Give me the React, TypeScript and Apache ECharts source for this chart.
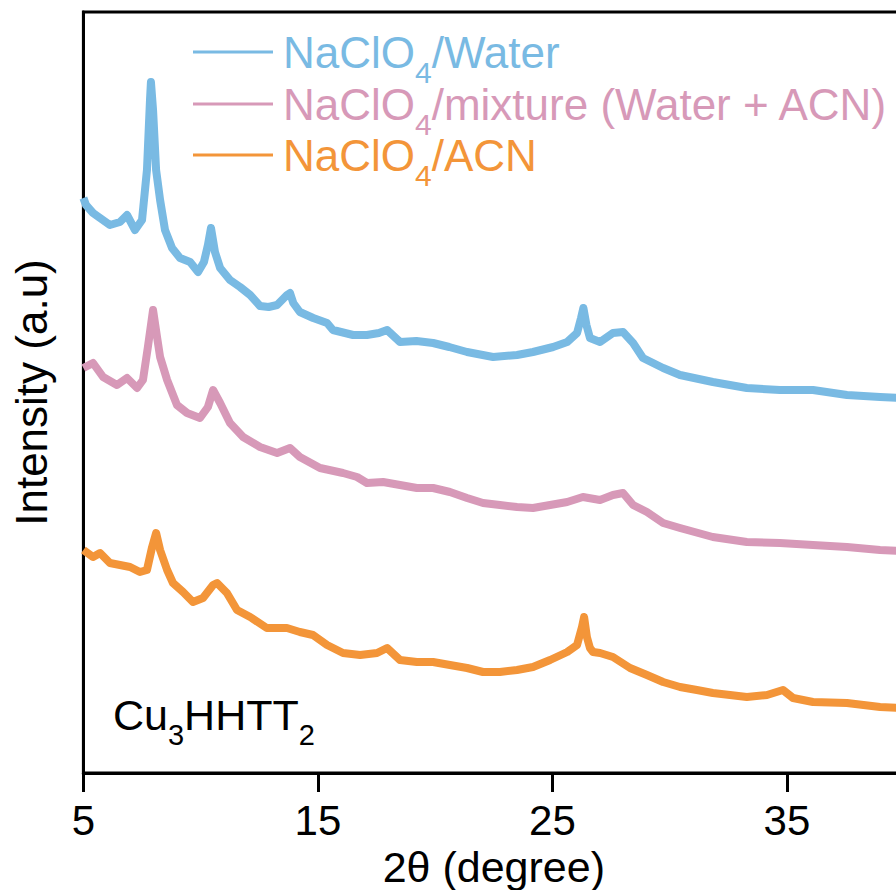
import React, { useEffect, useRef } from "react";
import * as echarts from "echarts";

// 2θ (degree), intensity (a.u.)
const waterData: [number, number][] = [
  [5.0, 575], [5.11, 568], [5.41, 560], [5.71, 555], [6.13, 548], [6.56, 551], [6.86, 558], [7.2, 543],
  [7.5, 553], [7.71, 603], [7.84, 673], [7.88, 691], [7.97, 663], [8.1, 603], [8.27, 573], [8.48, 543],
  [8.78, 525], [9.12, 515], [9.55, 511], [9.89, 501], [10.14, 511], [10.31, 528], [10.44, 545], [10.61, 521],
  [10.83, 505], [11.25, 493], [11.68, 486], [12.11, 478], [12.53, 467], [12.9, 466], [13.26, 468], [13.68, 478],
  [13.81, 480], [13.95, 470], [14.23, 461], [14.8, 455], [15.39, 450], [15.64, 443], [16.5, 438], [17.09, 438],
  [17.6, 440], [17.95, 443], [18.5, 431], [19.2, 432], [19.91, 430], [20.6, 426], [21.36, 421], [22.47, 416],
  [23.49, 418], [24.17, 421], [25.03, 426], [25.63, 431], [26.05, 440], [26.22, 455], [26.32, 465], [26.45, 448],
  [26.6, 435], [27.03, 431], [27.58, 440], [28.01, 441], [28.44, 430], [28.86, 415], [29.72, 405], [30.44, 398],
  [31.84, 391], [33.29, 385], [34.7, 383], [36.11, 383], [37.56, 378], [38.97, 376], [40, 375],
];

const mixtureData: [number, number][] = [
  [5.0, 405], [5.41, 410], [5.84, 396], [6.43, 388], [6.86, 395], [7.29, 385], [7.54, 393], [7.75, 426],
  [7.97, 463], [8.14, 436], [8.27, 416], [8.57, 393], [8.99, 368], [9.42, 360], [9.97, 355], [10.31, 366],
  [10.53, 383], [10.83, 370], [11.25, 350], [11.81, 336], [12.53, 326], [13.26, 320], [13.81, 325], [14.23, 316],
  [15.09, 305], [16.07, 300], [16.67, 296], [17.09, 290], [17.78, 291], [18.5, 288], [19.22, 285], [19.91, 285],
  [20.63, 281], [21.36, 275], [22.04, 270], [22.76, 268], [23.49, 266], [24.17, 265], [24.9, 268], [25.63, 271],
  [26.3, 276], [27.03, 273], [27.58, 278], [28.01, 280], [28.44, 268], [29.03, 261], [29.72, 250], [30.44, 245],
  [31.84, 236], [33.29, 231], [34.7, 230], [36.11, 228], [37.56, 226], [38.97, 223], [40, 222],
];

const acnData: [number, number][] = [
  [5.0, 223], [5.41, 216], [5.71, 220], [6.13, 210], [6.56, 208], [6.99, 206], [7.41, 201], [7.71, 203],
  [7.93, 226], [8.1, 240], [8.27, 223], [8.57, 203], [8.82, 190], [9.25, 181], [9.67, 171], [10.1, 175],
  [10.53, 188], [10.7, 190], [11.12, 180], [11.55, 163], [12.11, 156], [12.82, 145], [13.68, 145], [14.23, 141],
  [14.79, 138], [15.39, 128], [16.07, 120], [16.8, 118], [17.52, 120], [17.95, 125], [18.5, 113], [19.22, 111],
  [19.91, 111], [20.63, 108], [21.36, 105], [22.04, 101], [22.76, 101], [23.49, 103], [24.17, 106], [24.9, 113],
  [25.63, 121], [26.05, 128], [26.26, 146], [26.35, 156], [26.47, 136], [26.6, 125], [26.73, 121], [27.03, 120],
  [27.58, 116], [28.31, 105], [29.03, 98], [29.72, 91], [30.44, 86], [31.16, 83], [31.84, 80], [32.57, 78],
  [33.29, 76], [34.15, 78], [34.83, 83], [35.26, 75], [36.11, 71], [37.56, 70], [38.97, 66], [40, 65],
];

const seriesNames = ["NaClO4/Water", "NaClO4/mixture (Water + ACN)", "NaClO4/ACN"];
const seriesColors = ["#79BAE3", "#D799B8", "#F39539"];
const xTickValues = [5, 15, 25, 35];
const xMin = 5;
const xMax = 40;
const xInterval = 10;
const sampleLabel = { main1: "Cu", sub1: "3", main2: "HHTT", sub2: "2" };

const FONT = "Liberation Sans, Arial, Helvetica, sans-serif";

function richStyles(color: string, main: number, sub: number, lead: number) {
  return {
    f: { fontSize: main, lineHeight: main, color, fontFamily: FONT, padding: [0, 0, 0, lead], verticalAlign: "middle" },
    a: { fontSize: main, lineHeight: main, color, fontFamily: FONT, verticalAlign: "middle" },
    s: { fontSize: sub, lineHeight: sub, color, fontFamily: FONT, padding: [40, 0, 0, 0], verticalAlign: "middle" },
  };
}

function legendFormatter(name: string) {
  const rest = name.replace("NaClO4", "");
  return `{f|NaClO}{s|4}{a|${rest}}`;
}

export default function App() {
  const ref = useRef<HTMLDivElement>(null);
  useEffect(() => {
    if (!ref.current) return;
    const chart = echarts.init(ref.current, undefined, { renderer: "svg" });
    const datasets = [waterData, mixtureData, acnData];
    const legendTops = [17, 69, 120];
    const option: any = {
      animation: false,
      backgroundColor: "#ffffff",
      textStyle: { fontFamily: FONT },
      grid: {
        left: 83.4,
        top: 12,
        width: 820.8,
        bottom: 117,
        outerBoundsMode: "none",
        containLabel: false,
        show: true,
        borderColor: "#000",
        borderWidth: 3,
        backgroundColor: "transparent",
      },
      legend: seriesNames.map((name, i) => ({
        data: [name],
        left: 193,
        top: legendTops[i],
        padding: 0,
        orient: "vertical",
        icon: "rect",
        itemWidth: 80,
        itemHeight: 3,
        selectedMode: false,
        formatter: legendFormatter,
        textStyle: {
          color: seriesColors[i],
          fontSize: 44,
          fontFamily: FONT,
          rich: richStyles(seriesColors[i], 44, 30, 5),
        },
      })),
      xAxis: {
        type: "value",
        min: xMin,
        max: xMax,
        interval: xInterval,
        name: "2θ (degree)",
        nameLocation: "middle",
        nameGap: 70,
        nameTextStyle: { fontSize: 43, color: "#000", fontFamily: FONT },
        axisLine: { show: true, lineStyle: { color: "#000", width: 3 } },
        axisTick: { show: true, inside: false, length: 19, lineStyle: { color: "#000", width: 3 } },
        axisLabel: {
          fontSize: 42,
          color: "#000",
          fontFamily: FONT,
          margin: 26,
          formatter: (v: number) => (xTickValues.includes(v) ? String(v) : ""),
        },
        splitLine: { show: false },
      },
      yAxis: {
        type: "value",
        min: 0,
        max: 761,
        name: "Intensity (a.u)",
        nameLocation: "middle",
        nameGap: 30,
        nameTextStyle: { fontSize: 44, color: "#000", fontFamily: FONT },
        axisLine: { show: true, lineStyle: { color: "#000", width: 3 } },
        axisTick: { show: false },
        axisLabel: { show: false },
        splitLine: { show: false },
      },
      graphic: [
        {
          type: "text",
          left: 113,
          top: 680,
          style: {
            text: `{a|${sampleLabel.main1}}{s|${sampleLabel.sub1}}{a|${sampleLabel.main2}}{s|${sampleLabel.sub2}}`,
            rich: richStyles("#000", 43, 29, 0),
            fill: "#000",
          },
        },
      ],
      series: seriesNames.map((name, i) => ({
        name,
        type: "line",
        data: datasets[i],
        symbol: "none",
        smooth: false,
        lineStyle: { color: seriesColors[i], width: 8, join: "round" },
        itemStyle: { color: seriesColors[i] },
        z: 3 - i,
      })),
    };
    chart.setOption(option);
    return () => chart.dispose();
  }, []);
  return <div ref={ref} style={{ position: "fixed", left: 0, top: 0, width: 896, height: 890 }} />;
}
